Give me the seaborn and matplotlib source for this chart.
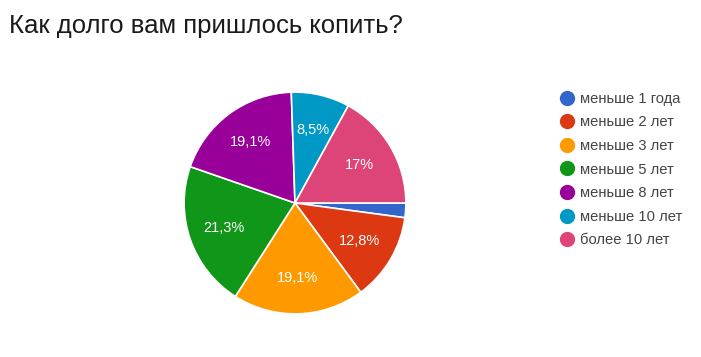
import matplotlib
matplotlib.use("Agg")
import matplotlib.pyplot as plt
from matplotlib.lines import Line2D
import seaborn as sns

# данные опроса (47 ответов)
categories = ["меньше 1 года", "меньше 2 лет", "меньше 3 лет", "меньше 5 лет",
              "меньше 8 лет", "меньше 10 лет", "более 10 лет"]
counts = [1, 6, 9, 10, 9, 4, 8]
colors = ["#3366CC", "#DC3912", "#FF9900", "#109618", "#990099", "#0099C6", "#DD4477"]

sns.set_theme(style="white")
plt.rcParams["font.family"] = ["Liberation Sans", "DejaVu Sans"]

fig = plt.figure(figsize=(7.01, 3.57), dpi=100)
W, H = 701, 357

def fmt(p):
    # маленькие доли без подписи, как в Google Forms
    if p < 5:
        return ""
    s = f"{p:.1f}".replace(".", ",")
    if s.endswith(",0"):
        s = s[:-2]
    return s + "%"

ax = fig.add_axes([183 / W, (H - 315) / H, 224 / W, 224 / H])
wedges, texts, autotexts = ax.pie(counts, colors=colors, startangle=0, counterclock=False,
                                  autopct=fmt, pctdistance=0.68,
                                  wedgeprops=dict(edgecolor="white", linewidth=1.2),
                                  textprops=dict(color="white", fontsize=10.5))
ax.set_xlim(-1.01, 1.01)
ax.set_ylim(-1.01, 1.01)
ax.set_aspect("equal")

fig.text(9 / W, 1 - 33 / H, "Как долго вам пришлось копить?", fontsize=18.5,
         color="#1a1a1a", ha="left", va="baseline")

handles = [Line2D([], [], marker="o", linestyle="", markersize=10,
                  markerfacecolor=c, markeredgecolor=c) for c in colors]
leg = fig.legend(handles, categories, loc="upper left", bbox_to_anchor=(553 / W, 1 - 86 / H),
                 frameon=False, fontsize=10.6, handletextpad=0.35, labelspacing=0.65,
                 handlelength=1.1, borderaxespad=0)
for t in leg.get_texts():
    t.set_color("#444444")

fig.savefig("out.png", dpi=100, facecolor="white")
